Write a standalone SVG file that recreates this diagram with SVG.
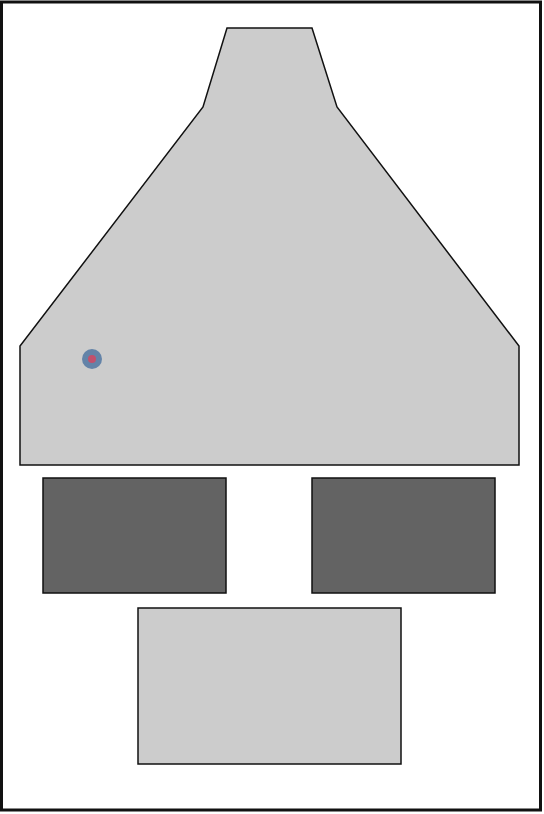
<svg xmlns="http://www.w3.org/2000/svg" width="544" height="814" viewBox="0 0 544 814">
<style>
.frame{fill:#ffffff;stroke:#111111;stroke-width:3}
.light{fill:#cccccc;stroke:#111111;stroke-width:1.5}
.dark{fill:#636363;stroke:#111111;stroke-width:1.5}
</style>
<rect class="frame" x="1.5" y="2" width="539" height="808"/>
<g id="hood">
<polygon class="light" points="227,28 312,28 337,107 519,346 519,465 20,465 20,346 203,107"/>
</g>
<g id="marker">
<circle cx="92" cy="359" r="10" fill="#6383a8"/>
<circle cx="92" cy="359" r="4" fill="#c2506c"/>
</g>
<g id="block-left">
<rect class="dark" x="43" y="478" width="183" height="115"/>
</g>
<g id="block-right">
<rect class="dark" x="312" y="478" width="183" height="115"/>
</g>
<g id="base">
<rect class="light" x="138" y="608" width="263" height="156"/>
</g>
<g id="connectors"/>
</svg>
